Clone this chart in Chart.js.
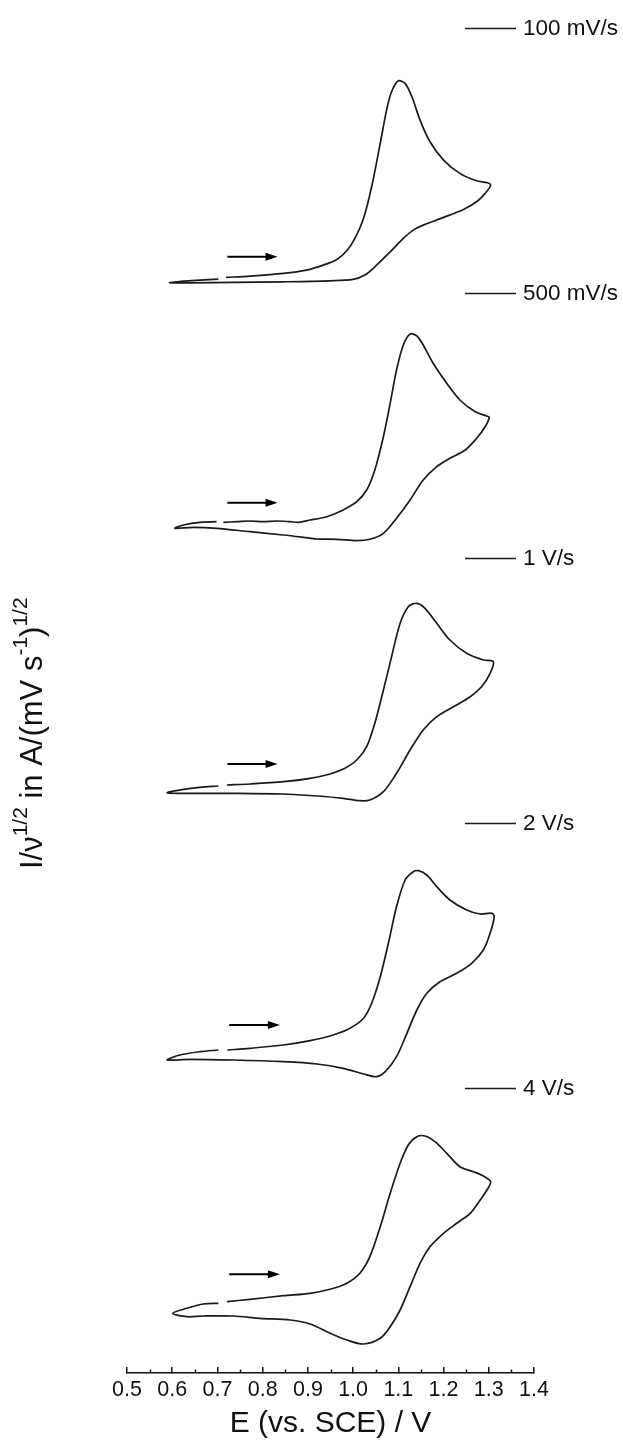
<!DOCTYPE html>
<html>
<head>
<meta charset="utf-8">
<script src="https://cdn.jsdelivr.net/npm/chart.js@4.4.1/dist/chart.umd.min.js"></script>
<style>
html,body{margin:0;padding:0;background:#ffffff;}
#wrap{width:623px;height:1447px;position:relative;}
</style>
</head>
<body>
<div id="wrap"><canvas id="cv"></canvas></div>
<script>
// ---- data (potential E in V vs SCE, normalised current in arbitrary units) ----
const scanRates = ['100 mV/s', '500 mV/s', '1 V/s', '2 V/s', '4 V/s'];

const E1 = [0.719,0.772,0.846,0.897,0.934,0.964,0.986,1.004,1.023,1.041,1.060,1.074,1.085,1.100,1.115,1.130,1.148,1.170,1.200,1.236,1.273,1.297,1.304,1.292,1.273,1.244,1.200,1.155,1.133,1.111,1.082,1.052,1.026,1.000,0.949,0.846,0.735,0.639,0.594,0.625,0.661,0.702];
const I1 = [0.52,0.65,0.92,1.25,1.75,2.32,3.18,4.42,6.42,9.58,13.92,17.25,19.08,20.18,19.92,18.58,16.25,14.08,12.25,10.92,10.18,9.98,9.72,8.92,8.08,7.32,6.52,5.75,5.25,4.42,3.08,1.75,0.75,0.32,0.18,0.08,0.02,-0.02,-0.02,0.15,0.25,0.35];

const E2 = [0.713,0.743,0.772,0.801,0.831,0.861,0.879,0.905,0.942,0.978,1.008,1.030,1.048,1.067,1.082,1.096,1.111,1.126,1.141,1.155,1.177,1.207,1.236,1.270,1.295,1.301,1.292,1.273,1.248,1.214,1.185,1.155,1.126,1.096,1.067,1.037,1.008,0.964,0.920,0.890,0.846,0.772,0.698,0.647,0.606,0.625,0.661,0.698];
const I2 = [3.29,3.35,3.42,3.35,3.42,3.35,3.29,3.52,3.85,4.52,5.35,6.52,8.52,11.85,15.19,18.52,21.02,22.12,21.92,21.02,19.19,17.19,15.52,14.35,13.92,13.79,12.85,11.69,10.52,9.69,8.85,7.52,5.52,3.69,2.19,1.59,1.45,1.59,1.62,1.79,2.02,2.35,2.69,2.79,2.69,3.02,3.29,3.35];

const E3 = [0.721,0.772,0.846,0.905,0.949,0.982,1.008,1.030,1.048,1.067,1.085,1.104,1.122,1.141,1.159,1.185,1.214,1.251,1.288,1.310,1.303,1.284,1.259,1.222,1.185,1.155,1.126,1.096,1.067,1.037,1.015,0.978,0.920,0.846,0.735,0.639,0.589,0.625,0.661,0.702];
const I3 = [4.28,4.38,4.61,4.95,5.38,5.95,6.78,8.11,10.45,13.78,17.11,20.45,22.11,22.45,21.95,20.45,18.78,17.45,16.78,16.61,15.45,14.11,13.11,12.11,11.11,9.78,7.78,5.45,3.61,2.78,2.71,2.95,3.18,3.38,3.45,3.45,3.51,3.85,4.05,4.18];

const E4 = [0.722,0.772,0.846,0.905,0.956,0.993,1.023,1.041,1.060,1.078,1.096,1.115,1.133,1.144,1.163,1.185,1.214,1.251,1.281,1.307,1.312,1.303,1.288,1.262,1.229,1.192,1.163,1.141,1.119,1.096,1.071,1.052,1.023,0.978,0.920,0.846,0.735,0.639,0.589,0.617,0.661,0.702];
const I4 = [5.04,5.21,5.54,5.97,6.54,7.21,8.21,9.71,12.37,15.71,19.37,22.04,22.87,22.97,22.54,21.37,20.04,19.04,18.64,18.71,18.37,16.71,15.04,13.71,12.71,11.87,10.71,9.04,6.71,4.37,2.87,2.37,2.64,3.21,3.64,3.87,4.04,4.11,4.04,4.54,4.87,5.04];

const E5 = [0.721,0.772,0.846,0.905,0.949,0.986,1.015,1.037,1.060,1.082,1.104,1.122,1.141,1.159,1.181,1.207,1.236,1.266,1.288,1.304,1.296,1.281,1.259,1.229,1.200,1.170,1.148,1.126,1.104,1.082,1.060,1.023,0.986,0.949,0.905,0.861,0.794,0.735,0.669,0.632,0.601,0.632,0.669,0.702];
const I5 = [7.13,7.37,7.73,7.97,8.37,8.97,9.97,11.63,14.63,17.97,20.97,22.80,23.63,23.70,23.13,21.97,20.63,20.13,19.70,19.13,18.30,17.30,15.97,14.97,13.97,12.63,10.97,8.63,6.30,4.63,3.47,2.90,3.30,3.97,4.90,5.30,5.47,5.70,5.70,5.63,5.97,6.47,6.90,6.97];

const xTickLabels = ['0.5','0.6','0.7','0.8','0.9','1.0','1.1','1.2','1.3','1.4'];

// scan-direction arrows (E start, E end, current level) per panel
const arrowFrom  = [0.722, 0.722, 0.722, 0.726, 0.726];
const arrowTo    = [0.833, 0.833, 0.833, 0.838, 0.838];
const arrowLevel = [2.59, 5.25, 6.38, 7.54, 9.87];

// vertical window of each stacked panel
const panelMin = [-3, -2.25, -1.5, -0.75, 0];
const panelMax = [23.51, 24.26, 25.01, 25.76, 26.51];

// ---- build ----
const FONT = '"Liberation Sans", Arial, Helvetica, sans-serif';
const INK = '#1a1a1a';
const Es = [E1, E2, E3, E4, E5];
const Is = [I1, I2, I3, I4, I5];

const datasets = Es.map((E, k) => ({
  label: scanRates[k],
  data: E.map((e, j) => ({x: e, y: Is[k][j]})),
  yAxisID: 'y' + k,
  showLine: true,
  borderColor: INK,
  borderWidth: 1.7,
  pointRadius: 0,
  tension: 0.3,
  fill: false
}));

const scales = {
  x: {
    type: 'linear',
    position: 'bottom',
    min: 0.5,
    max: 1.4,
    afterFit: s => { s.height = 74; },
    ticks: {
      stepSize: 0.1,
      autoSkip: false,
      maxRotation: 0,
      padding: 10,
      color: '#111',
      font: {family: FONT, size: 21.5},
      callback: (v, i) => xTickLabels[i]
    },
    grid: {display: true, drawOnChartArea: false, drawTicks: true, tickLength: -6, color: '#111', lineWidth: 1.5},
    border: {display: true, color: '#111', width: 1.5},
    title: {display: true, text: 'E (vs. SCE) / V', color: '#111', font: {family: FONT, size: 30}, padding: {top: 0, bottom: 5}}
  }
};
for (let k = 0; k < 5; k++) {
  scales['y' + k] = {
    type: 'linear',
    position: 'left',
    stack: 'cv',
    stackWeight: 1,
    weight: 5 - k,
    display: false,
    min: panelMin[k],
    max: panelMax[k],
    afterFit: s => { s.width = 0; }
  };
}

const decorations = {
  id: 'decorations',
  afterDraw(chart) {
    const ctx = chart.ctx;
    const xs = chart.scales.x;
    ctx.save();
    // minor ticks (inward) between labelled ticks
    ctx.strokeStyle = '#111';
    ctx.lineWidth = 1.5;
    for (let i = 0; i < xs.ticks.length - 1; i++) {
      const mid = (xs.ticks[i].value + xs.ticks[i + 1].value) / 2;
      const px = Math.round(xs.getPixelForValue(mid)) + 0.5;
      ctx.beginPath();
      ctx.moveTo(px, xs.top);
      ctx.lineTo(px, xs.top - 3.5);
      ctx.stroke();
    }
    // per-panel legend entries and scan arrows
    for (let k = 0; k < 5; k++) {
      const ys = chart.scales['y' + k];
      const ly = Math.round(ys.top - 20) + 0.5;
      ctx.strokeStyle = INK;
      ctx.lineWidth = 1.5;
      ctx.beginPath();
      ctx.moveTo(465, ly);
      ctx.lineTo(516, ly);
      ctx.stroke();
      ctx.fillStyle = '#111';
      ctx.font = '22.5px ' + FONT;
      ctx.textBaseline = 'middle';
      ctx.textAlign = 'left';
      ctx.fillText(scanRates[k], 523, ly);

      const ax0 = xs.getPixelForValue(arrowFrom[k]);
      const ax1 = xs.getPixelForValue(arrowTo[k]);
      const ay = ys.getPixelForValue(arrowLevel[k]);
      ctx.strokeStyle = '#000';
      ctx.lineWidth = 2;
      ctx.beginPath();
      ctx.moveTo(ax0, ay);
      ctx.lineTo(ax1 - 10, ay);
      ctx.stroke();
      ctx.fillStyle = '#000';
      ctx.beginPath();
      ctx.moveTo(ax1, ay);
      ctx.lineTo(ax1 - 12, ay - 4);
      ctx.lineTo(ax1 - 12, ay + 4);
      ctx.closePath();
      ctx.fill();
    }
    // rotated y-axis title with superscripts
    const segs = [
      {t: 'I/\u03bd', sup: false},
      {t: '1/2', sup: true},
      {t: ' in A/(mV s', sup: false},
      {t: '-1', sup: true},
      {t: ')', sup: false},
      {t: '1/2', sup: true}
    ];
    const mainF = '31px ' + FONT, supF = '21px ' + FONT;
    let total = 0;
    segs.forEach(s => { ctx.font = s.sup ? supF : mainF; s.w = ctx.measureText(s.t).width; total += s.w; });
    const cyMid = (chart.chartArea.top + chart.chartArea.bottom) / 2 + 23;
    ctx.translate(42, cyMid + total / 2);
    ctx.rotate(-Math.PI / 2);
    ctx.fillStyle = '#111';
    ctx.textBaseline = 'alphabetic';
    ctx.textAlign = 'left';
    let cx = 0;
    segs.forEach(s => {
      ctx.font = s.sup ? supF : mainF;
      ctx.fillText(s.t, cx, s.sup ? -15 : 0);
      cx += s.w;
    });
    ctx.restore();
  }
};

new Chart(document.getElementById('cv'), {
  type: 'scatter',
  data: {datasets},
  options: {
    responsive: true,
    maintainAspectRatio: false,
    animation: false,
    layout: {padding: {top: 47.5, left: 127, right: 89, bottom: 0}},
    plugins: {legend: {display: false}, tooltip: {enabled: false}},
    scales
  },
  plugins: [decorations]
});
</script>
</body>
</html>
